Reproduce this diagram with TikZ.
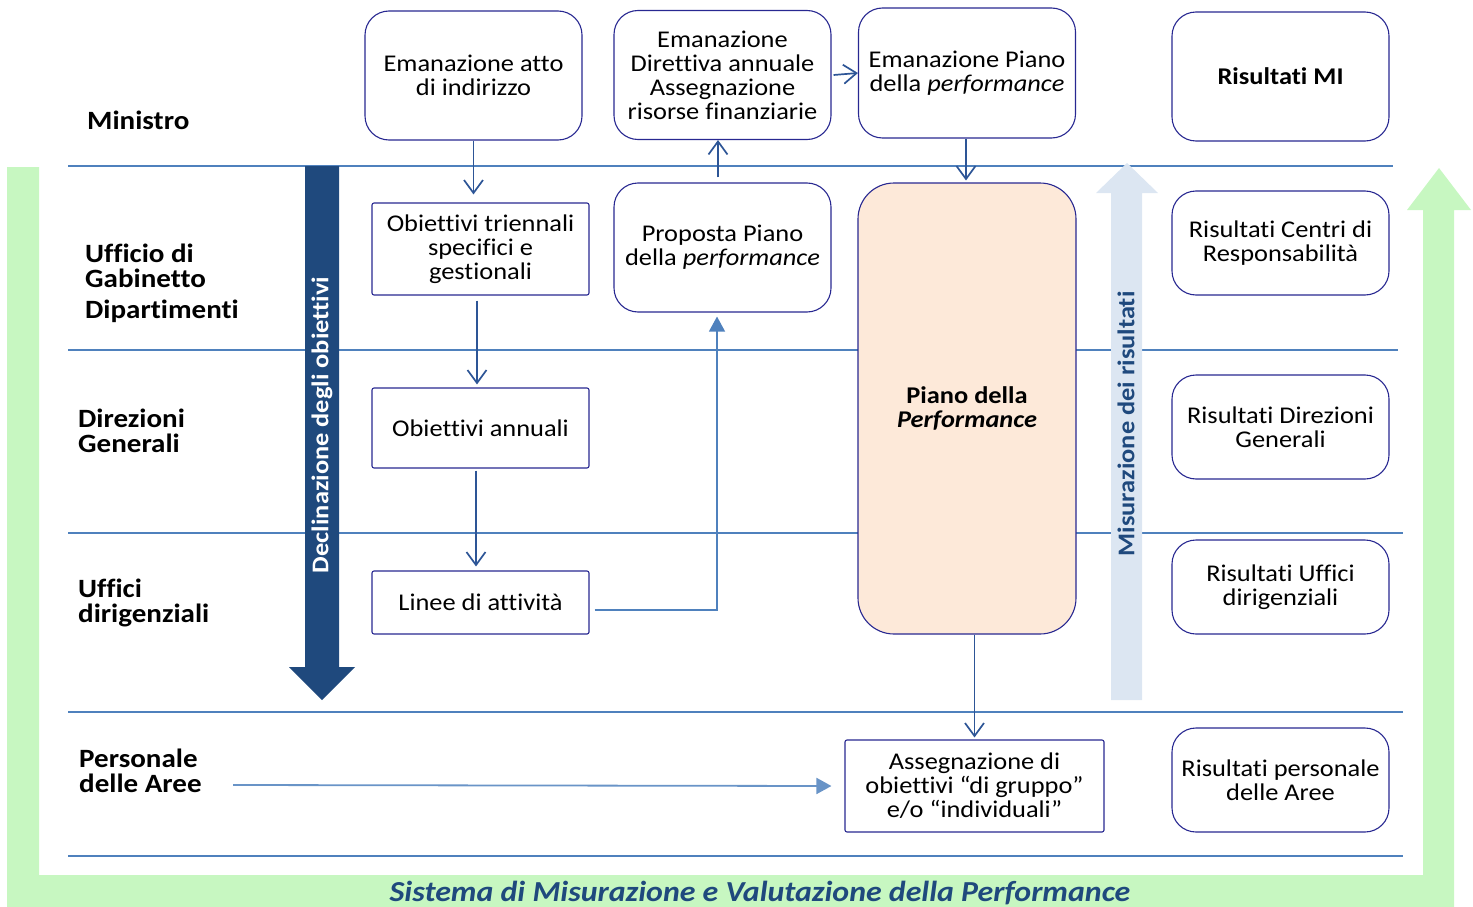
\documentclass[tikz,border=0pt]{standalone}
\usepackage{fontspec}
\setmainfont{Carlito}[FakeStretch=1.1, Ligatures={NoCommon,NoContextual}]
\usetikzlibrary{arrows.meta}
\definecolor{navyb}{RGB}{40,40,145}
\definecolor{connc}{RGB}{45,85,150}
\definecolor{lineb}{RGB}{79,129,189}
\definecolor{darkarrow}{RGB}{31,73,125}
\definecolor{lightarrow}{RGB}{220,230,242}
\definecolor{greenb}{RGB}{199,247,193}
\definecolor{peach}{RGB}{253,233,217}
\newcommand\boxfont{\fontsize{24}{24}\selectfont}
\newcommand\labfont{\fontsize{26.4}{25}\selectfont\bfseries}
\newcommand\rotfont{\fontsize{24}{24}\selectfont\bfseries}
\newcommand\bottomfont{\fontsize{29}{29}\selectfont\bfseries\itshape}
\begin{document}
\begin{tikzpicture}[x=1pt,y=-1pt,
  rbox/.style={draw=navyb, line width=1.1pt, rounded corners=24pt, fill=white,
    minimum width=217pt, minimum height=129pt, align=center, inner sep=0pt, font=\boxfont},
  sbox/.style={draw=navyb, line width=1.1pt, rounded corners=2pt, fill=white,
    minimum width=217pt, align=center, inner sep=0pt, font=\boxfont},
  lab/.style={anchor=base west, font=\labfont, inner sep=0pt},
  conn/.style={draw=connc, line width=1.7pt, -{Straight Barb[length=13pt,width=19pt,line width=1.7pt]}},
  tri/.style={draw=lineb, line width=1.3pt, -{Triangle[length=15pt,width=16pt]}},
  hline/.style={draw=lineb, line width=1.8pt}
]
\useasboundingbox (0,0) rectangle (1473,907);
% green U-shaped arrow
\fill[greenb] (7,167) -- (39,167) -- (39,875) -- (1423,875) -- (1423,210) -- (1407,210)
  -- (1439,168) -- (1471,210) -- (1454,210) -- (1454,907) -- (7,907) -- cycle;
% horizontal lines
\draw[hline] (68,166) -- (1393,166);
\draw[hline] (68,350) -- (1398,350);
\draw[hline] (68,533) -- (1403,533);
\draw[hline] (68,712) -- (1403,712);
\draw[hline] (68,856) -- (1403,856);
% big arrows
\fill[darkarrow] (305,166) -- (339,166) -- (339,667) -- (355,667) -- (322,700) -- (289,667) -- (305,667) -- cycle;
\node[rotate=90, font=\rotfont, text=white] (decl) at (322,425) {Declinazione degli obiettivi};
\fill[lightarrow] (1111,700) -- (1111,193) -- (1096,193) -- (1127,163) -- (1158,193) -- (1142,193) -- (1142,700) -- cycle;
\node[rotate=90, font=\rotfont, text=darkarrow] (mis) at (1126,424) {Misurazione dei risultati};
% left labels
\node[lab] (lmin) at (87,129) {Ministro};
\node[lab] (luff) at (85,262) {\vtop{\hbox{Ufficio di}\hbox{Gabinetto}\vskip6pt\hbox{Dipartimenti}}};
\node[lab] (ldir) at (78,427) {\vtop{\hbox{Direzioni}\hbox{Generali}}};
\node[lab] (luffd) at (78,597) {\vtop{\hbox{Uffici}\hbox{dirigenziali}}};
\node[lab] (lpers) at (79,767) {\vtop{\hbox{Personale}\hbox{delle Aree}}};
% boxes
\node[rbox] (b1) at (473.5,75.5) {Emanazione atto\\di indirizzo};
\node[rbox] (b2) at (722.5,75) {Emanazione\\Direttiva annuale\\Assegnazione\\risorse finanziarie};
\node[rbox, minimum height=130pt] (b3) at (967,73) {Emanazione Piano\\della \textit{performance}};
\node[rbox] (b4) at (1280.5,76.5) {\textbf{Risultati MI}};
\node[sbox, minimum height=92pt] (b5) at (480.5,249) {Obiettivi triennali\\specifici e\\gestionali};
\node[rbox] (b6) at (722.5,247.5) {Proposta Piano\\della \textit{performance}};
\node[rbox, fill=peach, rounded corners=36pt, minimum width=218pt, minimum height=451pt] (b7) at (967,408.5) {\textbf{Piano della}\\\textbf{\textit{Performance}}};
\node[rbox, minimum height=104pt] (b8) at (1280.5,243) {Risultati Centri di\\Responsabilità};
\node[sbox, minimum height=80pt] (b9) at (480.5,428) {Obiettivi annuali};
\node[rbox, minimum height=104pt] (b10) at (1280.5,427) {Risultati Direzioni\\Generali};
\node[sbox, minimum height=63pt] (b11) at (480.5,602.5) {Linee di attività};
\node[rbox, minimum height=94pt] (b12) at (1280.5,587) {Risultati Uffici\\dirigenziali};
\node[sbox, minimum width=259pt, minimum height=92pt] (b13) at (974.5,786) {Assegnazione di\\obiettivi “di gruppo”\\e/o “individuali”};
\node[rbox, minimum height=104pt] (b14) at (1280.5,780) {Risultati personale\\delle Aree};
% connectors
\draw[conn] (b1.south) -- ([yshift=8pt]b1.south |- b5.north);
\draw[conn] ([xshift=-3.5pt,yshift=-5pt]b5.south) -- ([xshift=-3.5pt,yshift=3pt]b9.north);
\draw[conn] ([xshift=-4.5pt,yshift=-2pt]b9.south) -- ([xshift=-4.5pt,yshift=4pt]b11.north);
\draw[tri] ([xshift=5pt,yshift=-7.5pt]b11.east) -| ([xshift=-5.5pt,yshift=-4pt]b6.south);
\draw[conn] ([xshift=-4.5pt,yshift=5pt]b6.north) -- ([xshift=-4.5pt]b2.south);
\draw[conn] ([xshift=2pt]b2.east) -- (b3.west);
\draw[conn] ([xshift=-1pt]b3.south) -- ([xshift=-1pt,yshift=2pt]b7.north);
\draw[conn] (b13.north |- b7.south) -- ([yshift=2pt]b13.north);
\coordinate (pstart) at (233,785);
\draw[tri, draw=lineb!85, line width=1.8pt] (pstart) -- ([xshift=-13pt]b13.west);
% bottom title
\node[font=\bottomfont, text=darkarrow, anchor=base, inner sep=0pt] (sys) at (760,901) {Sistema di Misurazione e Valutazione della Performance};
\end{tikzpicture}
\end{document}
